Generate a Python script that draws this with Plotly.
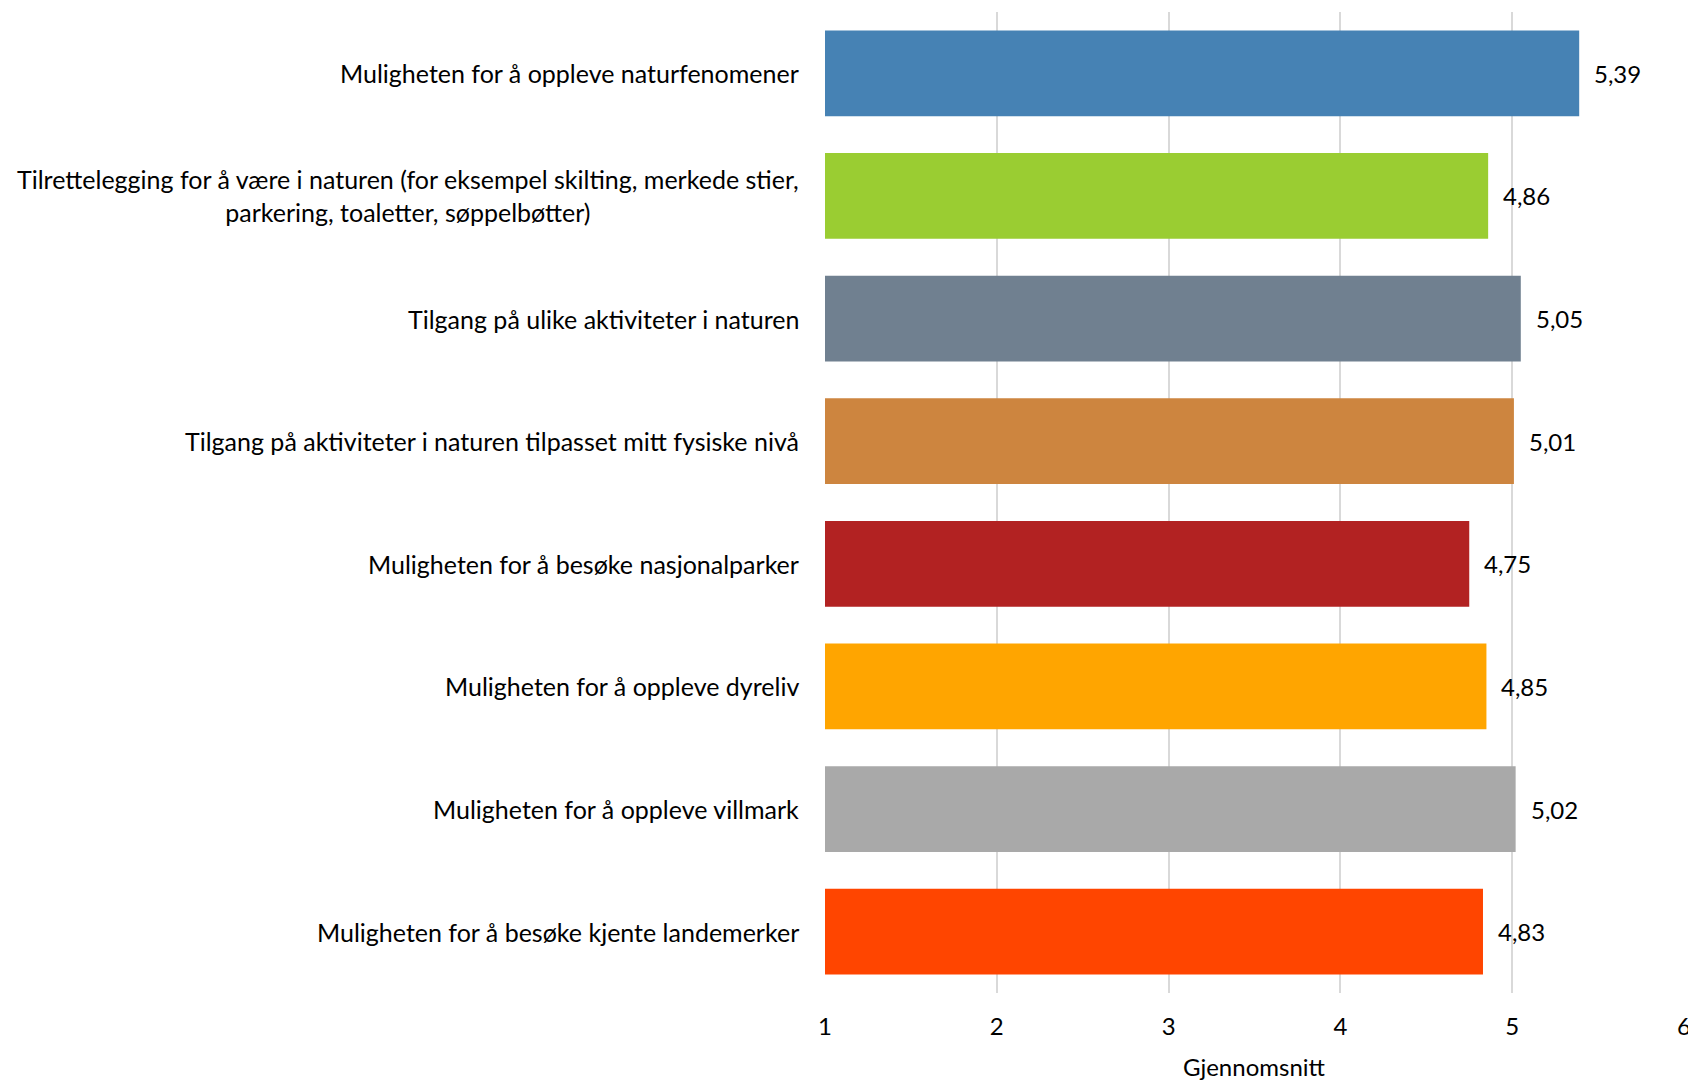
import plotly.graph_objects as go

categories = [
    "Muligheten for å oppleve naturfenomener",
    "Tilrettelegging for å være i naturen (for eksempel skilting, merkede stier,<br>parkering, toaletter, søppelbøtter)",
    "Tilgang på ulike aktiviteter i naturen",
    "Tilgang på aktiviteter i naturen tilpasset mitt fysiske nivå",
    "Muligheten for å besøke nasjonalparker",
    "Muligheten for å oppleve dyreliv",
    "Muligheten for å oppleve villmark",
    "Muligheten for å besøke kjente landemerker",
]
values = [5.39, 4.86, 5.05, 5.01, 4.75, 4.85, 5.02, 4.83]
colors = ["#4682B4", "#9ACD32", "#708090", "#CD853F", "#B22222", "#FFA500", "#A9A9A9", "#FF4500"]
x_ticks = [1, 2, 3, 4, 5, 6]
x_title = "Gjennomsnitt"

FONT = "Lato"
FS_CAT = 25
FS = 24

fig = go.Figure()
fig.add_trace(go.Bar(
    x=[v - 1 for v in values], base=1, y=categories, orientation="h",
    marker=dict(color=colors, line=dict(width=0)),
    hoverinfo="skip",
))

annotations = []
for c, v in zip(categories, values):
    annotations.append(dict(
        x=v, y=c, xref="x", yref="y", text=f"{v:.2f}".replace(".", ","),
        showarrow=False, xanchor="left", xshift=13,
        font=dict(family=FONT, size=FS, color="#000000"),
    ))
    annotations.append(dict(
        x=0, y=c, xref="paper", yref="y", text=c,
        showarrow=False, xanchor="right", align="center", xshift=-24,
        font=dict(family=FONT, size=FS_CAT, color="#000000"),
    ))
# x-axis title
annotations.append(dict(
    x=0.5, y=0, xref="paper", yref="paper", text=x_title,
    showarrow=False, xanchor="center", yanchor="middle", yshift=-73,
    font=dict(family=FONT, size=FS, color="#000000"),
))

# the page body has an 8px margin, so the figure is sized/offset to compensate
fig.update_layout(
    width=1688, height=1073,
    margin=dict(l=817, r=12, t=4, b=88, autoexpand=False),
    paper_bgcolor="white", plot_bgcolor="white",
    showlegend=False,
    bargap=0.3,
    font=dict(family=FONT, size=FS, color="#000000"),
    annotations=annotations,
    xaxis=dict(
        range=[1, 6], tickvals=x_ticks, ticktext=[str(t) for t in x_ticks],
        showgrid=True, gridcolor="#D9D9D9", gridwidth=2,
        zeroline=False, showline=False,
        ticks="outside", ticklen=12, tickcolor="rgba(0,0,0,0)",
        tickfont=dict(family=FONT, size=FS),
        automargin=False, fixedrange=True,
    ),
    yaxis=dict(
        categoryorder="array", categoryarray=categories[::-1],
        showticklabels=False, showgrid=False, zeroline=False, showline=False,
        automargin=False, fixedrange=True,
    ),
)

fig.write_html("out.html")
